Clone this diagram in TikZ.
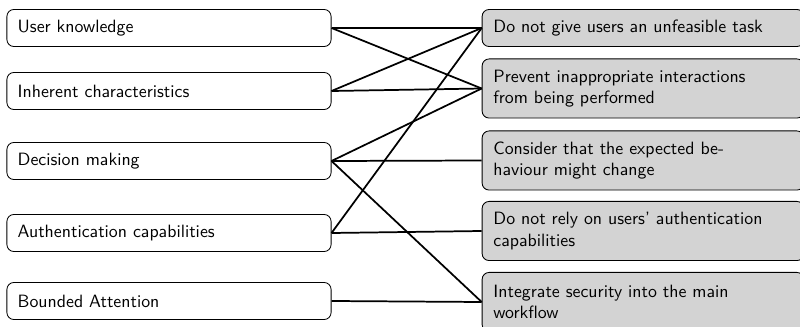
\documentclass[tikz,border=0pt]{standalone}
\usepackage{fontspec}
\renewcommand{\familydefault}{\sfdefault}
\definecolor{boxgray}{RGB}{211,211,211}
\newcommand{\boxfont}{\sffamily\fontsize{10.25}{12.4}\selectfont}
\begin{document}
\begin{tikzpicture}[x=0.575pt,y=-0.575pt,
  leftbox/.style={draw, line width=0.5pt, rounded corners=4pt, fill=white,
    minimum width=186.3pt, minimum height=21.3pt, text width=174pt,
    inner xsep=6.2pt, align=left, font=\boxfont},
  rightbox/.style={draw, line width=0.5pt, rounded corners=4pt, fill=boxgray,
    minimum width=185pt, text width=172pt,
    inner xsep=6.5pt, align=left, font=\boxfont},
  link/.style={line width=1pt}]
\useasboundingbox (0,0) rectangle (800,327);
\clip (0,0) rectangle (800,327);
\node[leftbox] (uk) at (169,28) {User knowledge};
\node[leftbox] (ic) at (169,91) {Inherent characteristics};
\node[leftbox] (dm) at (169,161) {Decision making};
\node[leftbox] (ac) at (169,233) {Authentication capabilities};
\node[leftbox] (ba) at (169,301) {Bounded Attention};
\node[rightbox, minimum height=21.3pt] (r1) at (643,28) {Do not give users an unfeasible task};
\node[rightbox, minimum height=34pt] (r2) at (643,88.5) {Prevent inappropriate interactions\\from being performed};
\node[rightbox, minimum height=34pt] (r3) at (643,160.5) {Consider that the expected be-\\haviour might change};
\node[rightbox, minimum height=34pt] (r4) at (643,231) {Do not rely on users' authentication\\capabilities};
\node[rightbox, minimum height=34pt] (r5) at (643,302) {Integrate security into the main\\workflow};
\draw[link] (uk.east) -- (r1.west);
\draw[link] (uk.east) -- (r2.west);
\draw[link] (ic.east) -- (r1.west);
\draw[link] (ic.east) -- (r2.west);
\draw[link] (dm.east) -- (r2.west);
\draw[link] (dm.east) -- (r3.west);
\draw[link] (dm.east) -- (r5.west);
\draw[link] (ac.east) -- (r1.west);
\draw[link] (ac.east) -- (r4.west);
\draw[link] (ba.east) -- (r5.west);
\end{tikzpicture}
\end{document}
